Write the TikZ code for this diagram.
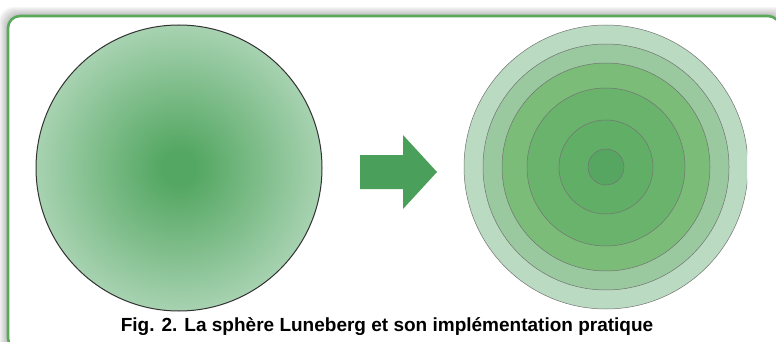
\documentclass[tikz,border=0pt]{standalone}
\usepackage{fontspec}
\setmainfont{Liberation Sans}
\usepackage{xcolor}
\usepackage{tikz}
\definecolor{cadregreen}{RGB}{88,170,90}
\definecolor{lunpale}{RGB}{190,222,198}
\definecolor{lundark}{RGB}{84,167,98}
\definecolor{flechegreen}{RGB}{74,160,90}
\definecolor{ringA}{RGB}{186,219,193}
\definecolor{ringB}{RGB}{154,201,160}
\definecolor{ringC}{RGB}{122,188,120}
\definecolor{ringD}{RGB}{106,179,108}
\definecolor{ringE}{RGB}{97,174,103}
\definecolor{ringF}{RGB}{86,165,96}
\pgfdeclareradialshading{luneberg}{\pgfpoint{0bp}{0bp}}{color(0bp)=(lundark); color(3bp)=(lundark); color(31bp)=(lunpale); color(50bp)=(lunpale)}

\begin{document}
\begin{tikzpicture}[x=1pt,y=-1pt,
  anneau/.style={draw=black!55,line width=0.5pt}]
\useasboundingbox (0,0) rectangle (776,342);
\coordinate(Cg)at(179,168);\coordinate(Cd)at(606,167);
% ombre et cadre
\foreach \d in {1,...,9}
  \fill[black,opacity=0.03,rounded corners=14] (8-\d,16-\d) rectangle (780+\d,350+\d);
\fill[white,rounded corners=12] (8,16) rectangle (780,350);
\draw[cadregreen,line width=2.6pt,rounded corners=12] (8,16) rectangle (780,350);
% sphere a gradient
\shade[shading=luneberg] (Cg) circle[radius=143];
\draw[black!80,line width=1pt] (Cg) circle[radius=143];
% fleche
\coordinate(F1)at(360,155);\coordinate(F2)at(403,155);\coordinate(F3)at(403,135);\coordinate(F4)at(437,172);
\coordinate(F5)at(403,209);\coordinate(F6)at(403,189);\coordinate(F7)at(360,189);
\fill[flechegreen](F1)--(F2)--(F3)--(F4)--(F5)--(F6)--(F7)--cycle;
% spheres concentriques
\begin{scope}
\clip (0,0) rectangle (747,342);
\foreach \r/\c in {142/ringA,123/ringB,104/ringC,79/ringD,47/ringE,18/ringF}
  \filldraw[anneau,fill=\c] (Cd) circle[radius=\r];
\end{scope}
\node[font=\bfseries\fontsize{19}{22}\selectfont](legende)at(387,327){Fig. 2. La sphère Luneberg et son implémentation pratique};
\end{tikzpicture}
\end{document}
